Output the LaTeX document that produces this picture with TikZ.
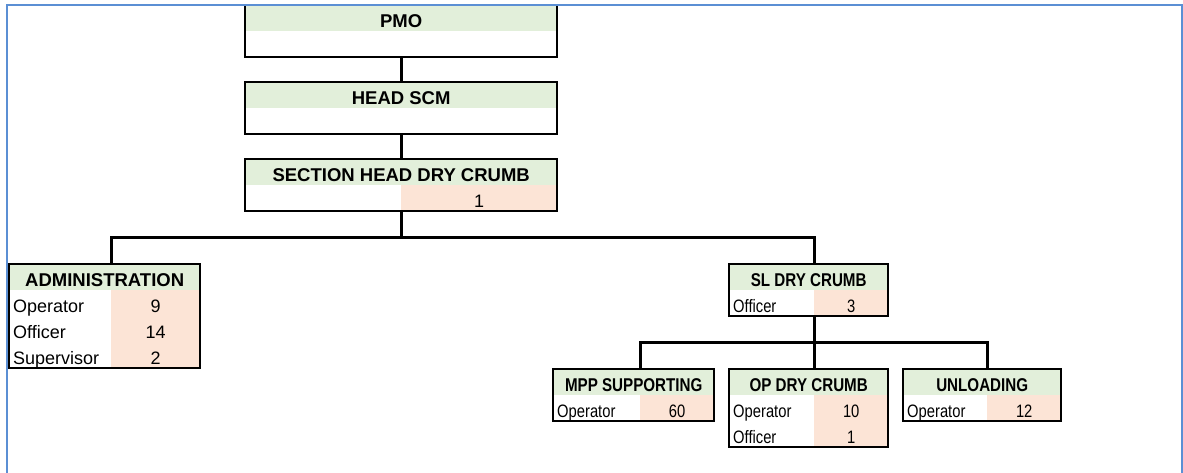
\documentclass[tikz,border=0pt]{standalone}
\usepackage{fontspec}
\setmainfont{Liberation Sans}
\newfontfamily\narrowsans[FakeStretch=0.82]{Liberation Sans}
\newcommand\cellfam{}
\definecolor{headgreen}{HTML}{E2EFDA}
\definecolor{cellpink}{HTML}{FCE4D6}
\definecolor{frameblue}{HTML}{5B8FD4}

\begin{document}
\begin{tikzpicture}[x=1pt,y=-1pt,
  cell/.style={anchor=north west,inner xsep=4pt,inner ysep=0pt,text height=22pt,text depth=4pt,minimum height=26pt,font=\fontsize{18}{21}\selectfont\cellfam},
  head/.style={cell,fill=headgreen,minimum width=#1,font=\fontsize{18.5}{21}\selectfont\cellfam\bfseries},
  blankcell/.style={cell,minimum width=#1},
  rolecell/.style={cell},
  numcell/.style={cell,fill=cellpink,minimum width=#1},
  narrow/.code={\def\cellfam{\narrowsans}},
  boxline/.style={draw=black,line width=2pt},
  link/.style={draw=black,line width=3pt},
  frame/.style={draw=frameblue,line width=2pt}]
\useasboundingbox (0,0) rectangle (1183,473);

% top of the chart
\node[head=312] (pmo) at (245,5) {PMO};
\node[blankcell=312] (pmob) at (245,31) {};
\node[head=312] (scm) at (245,82) {HEAD SCM};
\node[blankcell=312] (scmb) at (245,108) {};
\node[head=312] (sec) at (245,159) {SECTION HEAD DRY CRUMB};
\node[blankcell=156] (secr) at (245,185) {};
\node[numcell=156] (secv) at (401,185) {1};

% administration
\node[head=191] (adm) at (9,264) {ADMINISTRATION};
\node[rolecell] (adm1) at (9,290) {Operator};
\node[numcell=89] (admv1) at (111,290) {9};
\node[rolecell] (adm2) at (9,316) {Officer};
\node[numcell=89] (admv2) at (111,316) {14};
\node[rolecell] (adm3) at (9,342) {Supervisor};
\node[numcell=89] (admv3) at (111,342) {2};

% dry crumb line
\begin{scope}[narrow]
\node[head=159] (sl) at (729,264) {SL DRY CRUMB};
\node[rolecell] (sl1) at (729,290) {Officer};
\node[numcell=74] (slv1) at (814,290) {3};

\node[head=161] (mpp) at (553,369) {MPP SUPPORTING};
\node[rolecell] (mpp1) at (553,395) {Operator};
\node[numcell=74] (mppv1) at (640,395) {60};

\node[head=159] (op) at (729,369) {OP DRY CRUMB};
\node[rolecell] (op1) at (729,395) {Operator};
\node[numcell=74] (opv1) at (814,395) {10};
\node[rolecell] (op2) at (729,421) {Officer};
\node[numcell=74] (opv2) at (814,421) {1};

\node[head=158] (unl) at (903,369) {UNLOADING};
\node[rolecell] (unl1) at (903,395) {Operator};
\node[numcell=74] (unlv1) at (987,395) {12};
\end{scope}

% box borders
\draw[boxline] (pmo.north west) rectangle (pmob.south east);
\draw[boxline] (scm.north west) rectangle (scmb.south east);
\draw[boxline] (sec.north west) rectangle (secv.south east);
\draw[boxline] (adm.north west) rectangle (admv3.south east);
\draw[boxline] (sl.north west) rectangle (slv1.south east);
\draw[boxline] (mpp.north west) rectangle (mppv1.south east);
\draw[boxline] (op.north west) rectangle (opv2.south east);
\draw[boxline] (unl.north west) rectangle (unlv1.south east);

% connectors
\coordinate (bus) at (401,237);
\coordinate (subbus) at (814,342);
\draw[link] (pmob) -- (scm);
\draw[link] (scmb) -- (sec);
\draw[link] (secv.south west) -- (bus);
\draw[link] (adm.north -| admv1.west) |- (bus) -| (sl.north -| slv1.west);
\draw[link] (slv1.south west) -- (op.north -| opv1.west);
\draw[link] (mpp.north -| mppv1.west) |- (subbus) -| (unl.north -| unlv1.west);

% frame
\draw[frame] (7,473) -- (7,5) -- (1182,5) -- (1182,473);
\end{tikzpicture}
\end{document}
